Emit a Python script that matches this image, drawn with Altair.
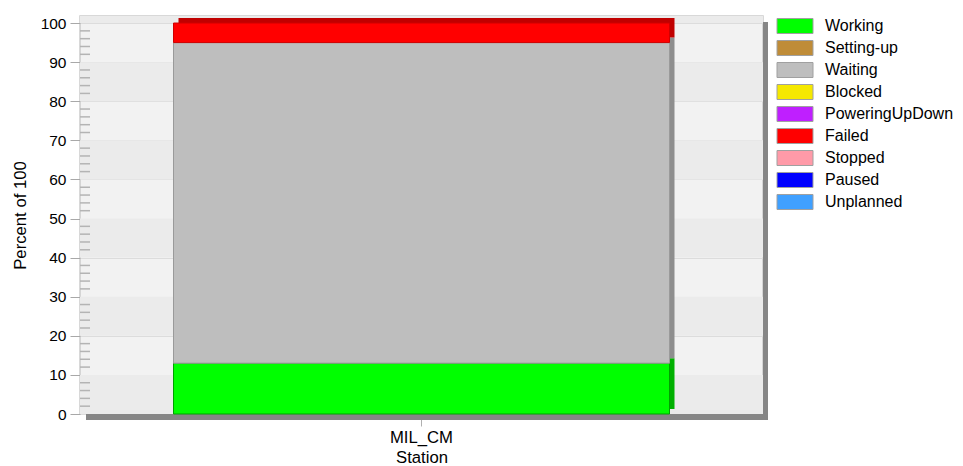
import altair as alt
import pandas as pd

# ---- data ----
station = ["MIL_CM", "MIL_CM", "MIL_CM"]
states_present = ["Working", "Waiting", "Failed"]
percents = [13, 82, 5]
stack_rank = [0, 1, 2]
side_colors = ["#00b000", "#8e8e8e", "#c00000"]
edge_colors = ["#00a000", "#9a9a9a", "#d00000"]

legend_states = ["Working", "Setting-up", "Waiting", "Blocked", "PoweringUpDown",
                 "Failed", "Stopped", "Paused", "Unplanned"]
legend_colors = ["#00ff00", "#bf8c38", "#bebebe", "#f5e800", "#bf1fff",
                 "#ff0000", "#ff9aa8", "#0000ff", "#40a0ff"]

y_ticks = [0, 10, 20, 30, 40, 50, 60, 70, 80, 90, 100]
minor_ticks = [2, 4, 6, 8, 12, 14, 16, 18, 22, 24, 26, 28, 32, 34, 36, 38,
               42, 44, 46, 48, 52, 54, 56, 58, 62, 64, 66, 68, 72, 74, 76, 78,
               82, 84, 86, 88, 92, 94, 96, 98]
dark_band_starts = [0, 20, 40, 60, 80, 100]
dark_band_ends = [10, 30, 50, 70, 90, 110]

W, H = 683, 398
FONT = "Liberation Sans"
TXT = 16.7
LEG_TXT = 16.0

bars = pd.DataFrame({"Station": station, "State": states_present, "Percent": percents,
                     "rank": stack_rank, "side": side_colors, "edge": edge_colors})
bands = pd.DataFrame({"s": dark_band_starts, "e": dark_band_ends})
minors = pd.DataFrame({"v": minor_ticks})
one = pd.DataFrame({"a": [0]})

yscale = alt.Scale(domain=[0, 101.8], nice=False, zero=False)
yaxis = alt.Axis(values=y_ticks, title="Percent of 100", grid=True, gridColor="#dcdcdc",
                 tickColor="#a8a8a8", tickSize=10, domain=False, labelPadding=4,
                 labelOverlap=False, titlePadding=11, labelFontSize=15.5,
                 titleFontSize=TXT)

band_layer = alt.Chart(bands).mark_rect(color="#ebebeb", clip=True).encode(
    y=alt.Y("s:Q", scale=yscale, axis=yaxis),
    y2="e:Q",
    x=alt.value(0), x2=alt.value(W),
)

minor_layer = alt.Chart(minors).mark_rule(color="#b4b4b4", strokeWidth=1.5).encode(
    y=alt.Y("v:Q", scale=yscale, axis=yaxis), x=alt.value(0), x2=alt.value(10)
)

shadow_bottom = alt.Chart(one).mark_rect(color="#868686").encode(
    x=alt.value(6), x2=alt.value(W + 5), y=alt.value(H), y2=alt.value(H + 6))
shadow_right = alt.Chart(one).mark_rect(color="#868686").encode(
    x=alt.value(W), x2=alt.value(W + 5), y=alt.value(6), y2=alt.value(H + 6))

xaxis = alt.Axis(title="Station", labelAngle=0, tickSize=12, tickColor="#b0b0b0",
                 domain=False, labelPadding=3, titlePadding=4,
                 labelFontSize=TXT, titleFontSize=TXT)

back_bar = alt.Chart(bars).mark_bar(size=496, xOffset=5, yOffset=-5).encode(
    x=alt.X("Station:N", axis=xaxis),
    y=alt.Y("Percent:Q", stack="zero", scale=yscale, axis=yaxis),
    order=alt.Order("rank:Q"),
    color=alt.Color("side:N", scale=None),
)

front_bar = alt.Chart(bars).mark_bar(size=496, strokeWidth=1).encode(
    x=alt.X("Station:N", axis=xaxis),
    y=alt.Y("Percent:Q", stack="zero", scale=yscale, axis=yaxis),
    order=alt.Order("rank:Q"),
    stroke=alt.Stroke("edge:N", scale=None),
    color=alt.Color("State:N",
                    scale=alt.Scale(domain=legend_states, range=legend_colors),
                    legend=alt.Legend(
                        title=None, orient="none", legendX=W + 24, legendY=2,
                        symbolType="M-2.4,-1L2.4,-1L2.4,1L-2.4,1Z",
                        symbolSize=225, symbolStrokeColor="#a0a0a0",
                        symbolStrokeWidth=1, symbolOpacity=1,
                        labelFontSize=LEG_TXT, labelFont=FONT, labelColor="#000",
                        labelOffset=22, rowPadding=2, labelLimit=300)),
)

chart = alt.layer(band_layer, minor_layer, shadow_bottom, shadow_right,
                  back_bar, front_bar).properties(
    width=W, height=H,
    autosize=alt.AutoSizeParams(type="none"),
    padding={"left": 72, "top": 8, "right": 192, "bottom": 52},
).configure_view(fill="#f2f2f2", stroke="#cccccc", strokeWidth=1.5
).configure_axis(titleFontWeight="normal",
                 labelColor="#000", titleColor="#000", labelFont=FONT, titleFont=FONT)

chart.save("out.html", embed_options={"renderer": "svg", "actions": False})
